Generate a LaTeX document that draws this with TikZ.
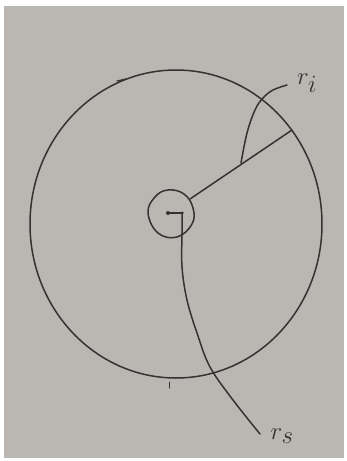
\documentclass[tikz,border=0pt]{standalone}
\usetikzlibrary{calc}
\definecolor{paper}{RGB}{186,183,179}
\definecolor{ink}{RGB}{52,50,50}
\begin{document}
\begin{tikzpicture}[x=1pt,y=-1pt,
  pen/.style={draw=ink,line width=1.5pt,line cap=round,line join=round},
  lbl/.style={text=ink,inner sep=0pt,font=\fontsize{40}{42}\selectfont}]
\useasboundingbox (0,0) rectangle (346,461);
\fill[white] (0,0) rectangle (346,461);
\fill[paper] (4,6) rectangle (344,458);
% outer circle
\coordinate (o) at (176,224);
\draw[pen] (o) ellipse [x radius=146, y radius=154];
% inner circle
\draw[pen] plot[smooth cycle,tension=0.7] coordinates {
 (148,213) (155,197) (168,190) (184,194) (193,208) (192,224) (177,237) (158,233)};
% centre
\coordinate (c) at (168,213);
\fill[ink] (c) circle (2pt);
\coordinate (e) at (292,130);
\coordinate (s) at (190,199);
\draw[pen] (s) -- (e);
\draw[pen] (c) -- (183,213);
% r_i arc
\node[lbl] (ri) at (307,83) {$r_i$};
\coordinate (a0) at (241,163);
\coordinate (a1) at (287,85);
\draw[pen] plot[smooth,tension=0.6] coordinates {(a0) (247,133) (255,110) (263,98) (273,90) (a1)};
% r_s curve
\node[lbl] (rs) at (282,436) {$r_s$};
\coordinate (b0) at (182,212);
\coordinate (b1) at (260,434);
\draw[pen] plot[smooth,tension=0.6] coordinates {(b0) (182,233) (182,267) (187,300) (197,333) (210,367) (233,400) (b1)};
% small pen marks
\draw[pen,line width=1.2pt] (117,81) -- (126,79);
\draw[pen,line width=1pt] (169,382) -- (169,388);
\end{tikzpicture}
\end{document}
